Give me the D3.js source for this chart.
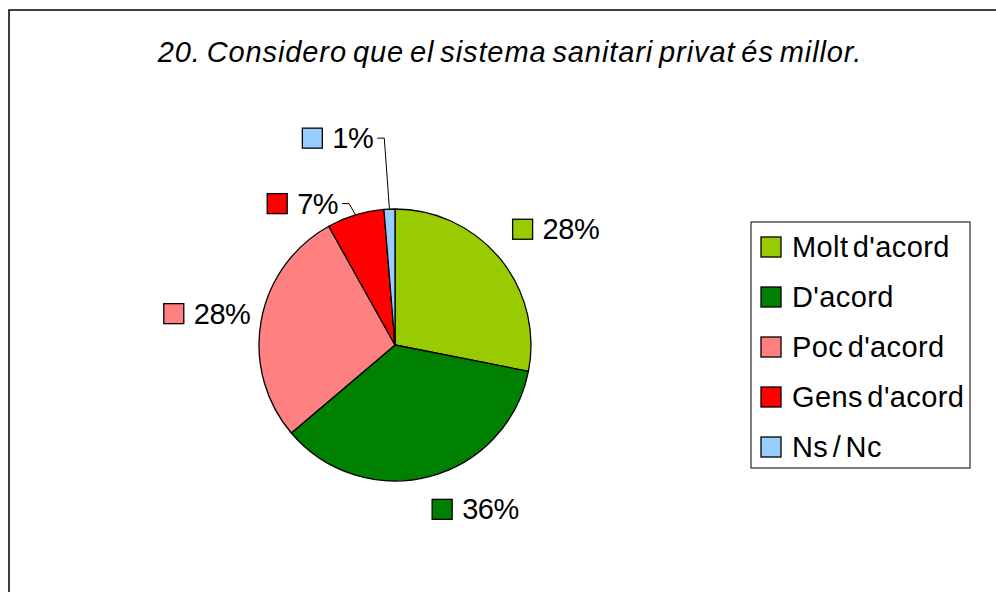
<!DOCTYPE html>
<html>
<head>
<meta charset="utf-8">
<script src="https://cdn.jsdelivr.net/npm/d3@7"></script>
<style>
  body { margin: 0; background: #fff; }
  text { font-family: "Liberation Sans", Arial, sans-serif; fill: #000; }
</style>
</head>
<body>
<script>
// dades del gràfic
const categories = ["Molt d'acord", "D'acord", "Poc d'acord", "Gens d'acord", "Ns / Nc"];
const values = [28.1, 35.7, 28.1, 6.8, 1.3];
const colors = ["#99cc00", "#008000", "#ff8080", "#ff0000", "#99ccff"];
const title = "20. Considero que el sistema sanitari privat és millor.";

// etiquetes mogudes a mà (com a l'Excel), desplaçament respecte la posició radial
const labelNudge = [[0, -4], [28, -6], [17, 0], [-34, 27], [-49, -31]];
const hasLeader = [false, false, false, true, true];

const W = 996, H = 592;
const cx = 395, cy = 345, r = 136, labelR = 165;

const svg = d3.select("body").append("svg")
    .attr("width", W)
    .attr("height", H);

// marc del gràfic
svg.append("rect")
    .attr("x", 9).attr("y", 10)
    .attr("width", 1000).attr("height", 600)
    .attr("fill", "none")
    .attr("stroke", "#000")
    .attr("stroke-width", 1.5);

svg.append("text")
    .attr("x", 510).attr("y", 62)
    .attr("text-anchor", "middle")
    .style("font-size", "29px")
    .style("font-style", "italic")
    .style("letter-spacing", "0.9px")
    .style("word-spacing", "-3px")
    .text(title);

const total = d3.sum(values);
const pie = d3.pie().sort(null).value(d => d);
const arcs = pie(values);
const arc = d3.arc().innerRadius(0).outerRadius(r);
const edgeArc = d3.arc().innerRadius(r).outerRadius(r);
const outerArc = d3.arc().innerRadius(labelR).outerRadius(labelR);

const g = svg.append("g").attr("transform", `translate(${cx},${cy})`);

g.selectAll("path.slice")
    .data(arcs)
    .join("path")
    .attr("class", "slice")
    .attr("d", arc)
    .attr("fill", (d, i) => colors[i])
    .attr("stroke", "#000")
    .attr("stroke-width", 1.3)
    .attr("stroke-linejoin", "round");

// etiquetes de percentatge
const fmt = v => Math.round(v / total * 100) + "%";
arcs.forEach((d, i) => {
    const a = (d.startAngle + d.endAngle) / 2;
    const [ax, ay] = outerArc.centroid(d);
    const lg = g.append("g");
    lg.append("rect")
        .attr("x", 0).attr("y", -10)
        .attr("width", 20).attr("height", 20)
        .attr("fill", colors[i])
        .attr("stroke", "#000")
        .attr("stroke-width", 1.3);
    lg.append("text")
        .attr("x", 30).attr("y", 10)
        .style("font-size", "29px")
        .style("letter-spacing", "-0.5px")
        .text(fmt(values[i]));
    const bw = 30 + lg.select("text").node().getComputedTextLength();
    const bh = 22;
    const bx = ax + Math.sin(a) * bw / 2 + labelNudge[i][0];
    const by = ay - Math.cos(a) * bh / 2 + labelNudge[i][1];
    lg.attr("transform", `translate(${bx - bw / 2},${by})`);

    if (hasLeader[i]) {
        const [ex, ey] = edgeArc.centroid(d);
        const x0 = bx + bw / 2 + 4;
        g.append("path")
            .attr("d", `M${x0},${by}H${x0 + 7}L${ex},${ey}`)
            .attr("fill", "none")
            .attr("stroke", "#000")
            .attr("stroke-width", 1);
    }
});

// llegenda
const legend = svg.append("g").attr("transform", "translate(751,222)");
legend.append("rect")
    .attr("width", 219).attr("height", 246)
    .attr("fill", "#fff")
    .attr("stroke", "#000")
    .attr("stroke-width", 1);

const ly = d3.scalePoint().domain(categories).range([25, 225]);
const items = legend.selectAll("g.item")
    .data(categories)
    .join("g")
    .attr("class", "item")
    .attr("transform", d => `translate(10,${ly(d)})`);
items.append("rect")
    .attr("y", -10)
    .attr("width", 20).attr("height", 20)
    .attr("fill", (d, i) => colors[i])
    .attr("stroke", "#000")
    .attr("stroke-width", 1.3);
items.append("text")
    .attr("x", 31).attr("y", 10)
    .style("font-size", "29px")
    .style("letter-spacing", "0.4px")
    .style("word-spacing", "-4px")
    .text(d => d);
</script>
</body>
</html>
